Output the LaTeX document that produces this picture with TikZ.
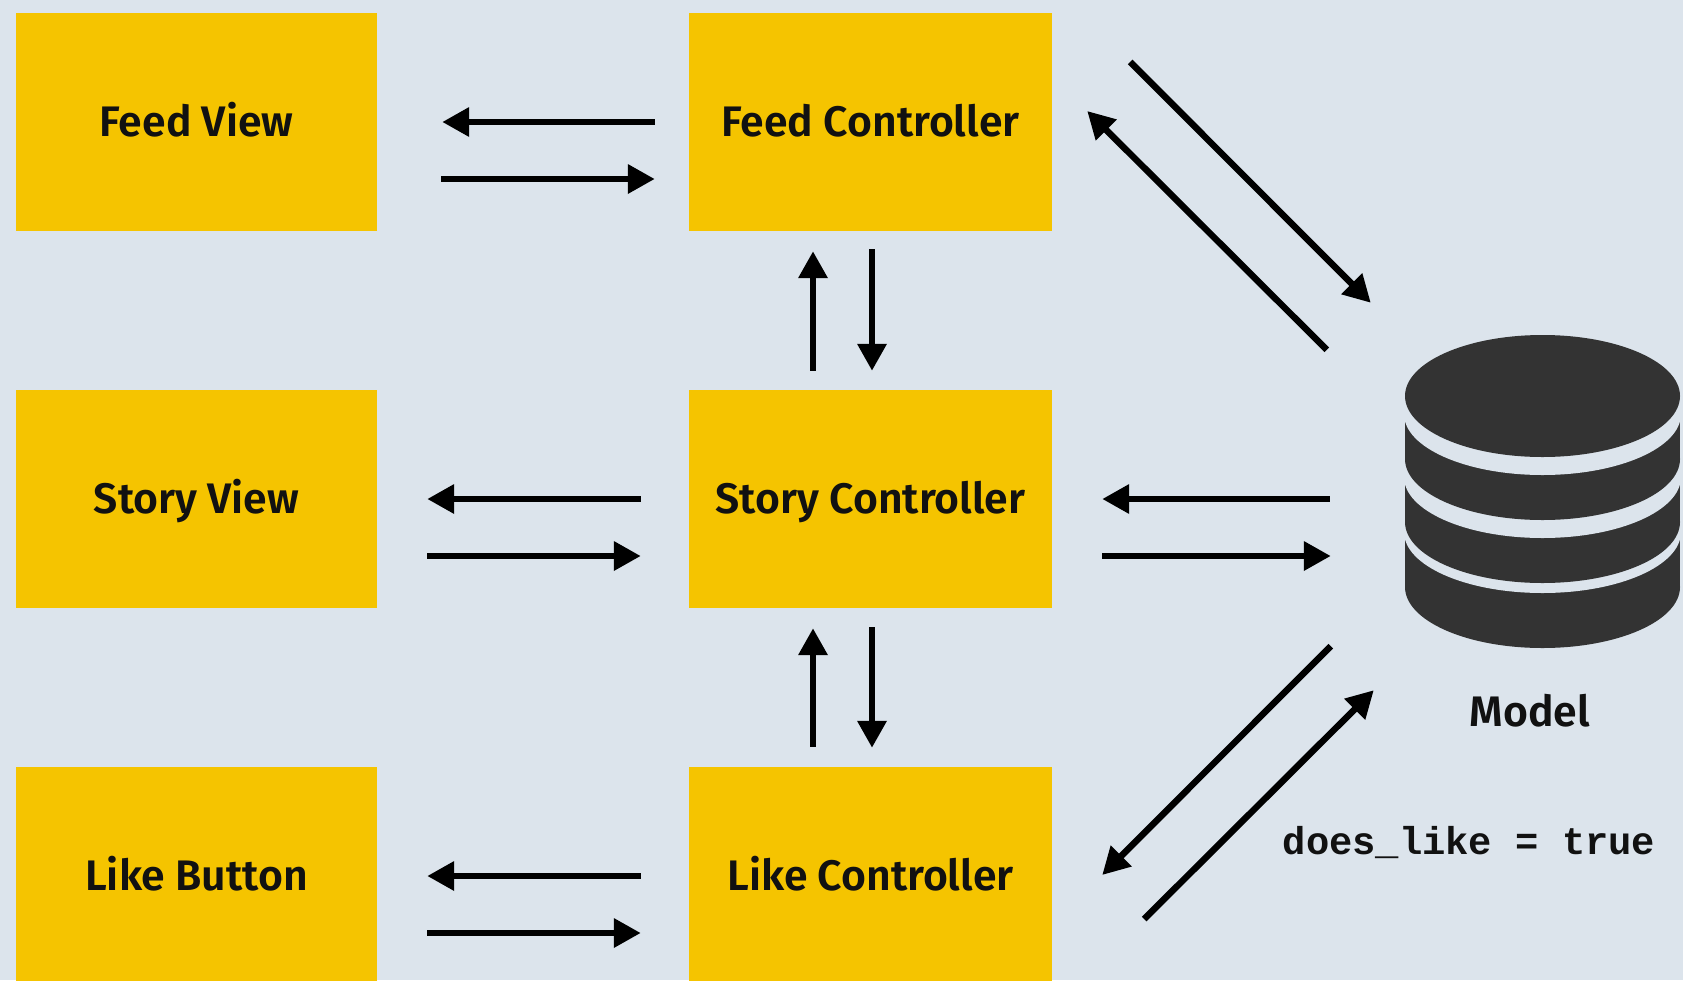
\documentclass[tikz,border=0pt]{standalone}
\usepackage{fontspec}
\setmainfont{Fira Sans}[BoldFont={Fira Sans SemiBold}]
\setmonofont{Liberation Mono}
\usetikzlibrary{arrows.meta}
\definecolor{bgcol}{HTML}{DCE4EC}
\definecolor{boxcol}{HTML}{F5C400}
\definecolor{dbcol}{HTML}{333333}
\definecolor{txtcol}{HTML}{111111}

\begin{document}
\begin{tikzpicture}[x=1pt,y=-1pt,
  box/.style={fill=boxcol,minimum width=361pt,minimum height=218pt,inner sep=0pt,text=txtcol,text height=36pt,text depth=8pt,font=\fontsize{42.7}{48}\selectfont\bfseries},
  flow/.style={draw=black,line width=6.5pt,-{Triangle[length=27pt,width=28pt]}},
  lbl/.style={inner sep=0pt,text=txtcol}]
\useasboundingbox (0,0) rectangle (1683,980);
\clip (0,0) rectangle (1683,980);
\fill [bgcol] (0,0) rectangle (1683,980);

\node [box] (feedview) at (196.5,122) {Feed View};
\node [box] (storyview) at (196.5,499) {Story View};
\node [box] (likebtn) at (196.5,876) {Like Button};
\node [box,minimum width=363pt] (feedctl) at (870.5,122) {Feed Controller};
\node [box,minimum width=363pt] (storyctl) at (870.5,499) {Story Controller};
\node [box,minimum width=363pt] (likectl) at (870.5,876) {Like Controller};
\node [minimum width=275pt,minimum height=312pt,inner sep=0pt] (model) at (1542.5,492) {};

% database, painted from the bottom layer up
\foreach \c/\g in {587/532,522/477,459/414}{
  \fill [dbcol] (model.west |- 0,\c-50) rectangle (model.east |- 0,\c);
  \fill [dbcol] (1542.5,\c) ellipse [x radius=137.5,y radius=61];
  \fill [bgcol] (1542.5,\g) ellipse [x radius=138.5,y radius=61];
}
\fill [dbcol] (1542.5,396) ellipse [x radius=137.5,y radius=61];

\node [lbl,font=\fontsize{42.7}{48}\selectfont\bfseries] (modellbl) at (1530,711) {Model};
\node [lbl,font=\fontsize{38.8}{44}\selectfont\ttfamily\bfseries] (doeslike) at (1469,843) {does\_like = true};

% view <-> controller
\draw [flow,shorten <=34pt,shorten >=65pt] (feedctl.west) -- (feedview.east);
\draw [flow,shorten <=64pt,shorten >=34pt] ([shift={(0,57)}]feedview.east) -- ([shift={(0,57)}]feedctl.west);
\draw [flow,shorten <=48pt,shorten >=50pt] (storyctl.west) -- (storyview.east);
\draw [flow,shorten <=50pt,shorten >=48pt] ([shift={(0,57)}]storyview.east) -- ([shift={(0,57)}]storyctl.west);
\draw [flow,shorten <=48pt,shorten >=50pt] (likectl.west) -- (likebtn.east);
\draw [flow,shorten <=50pt,shorten >=48pt] ([shift={(0,57)}]likebtn.east) -- ([shift={(0,57)}]likectl.west);

% controller <-> controller
\draw [flow,shorten <=19pt,shorten >=20pt] ([shift={(-57.5,0)}]storyctl.north) -- ([shift={(-57.5,0)}]feedctl.south);
\draw [flow,shorten <=18pt,shorten >=19pt] ([shift={(1.5,0)}]feedctl.south) -- ([shift={(1.5,0)}]storyctl.north);
\draw [flow,shorten <=20pt,shorten >=20pt] ([shift={(-57.5,0)}]likectl.north) -- ([shift={(-57.5,0)}]storyctl.south);
\draw [flow,shorten <=19pt,shorten >=19pt] ([shift={(1.5,0)}]storyctl.south) -- ([shift={(1.5,0)}]likectl.north);

% controller <-> model
\draw [flow] ([shift={(78,-60)}]feedctl.east) -- ([shift={(-34,-33)}]model.north west);
\draw [flow] ([shift={(-78,14)}]model.north west) -- ([shift={(35,-11)}]feedctl.east);
\draw [flow,shorten <=75pt,shorten >=50pt] (model.west |- storyctl.east) -- (storyctl.east);
\draw [flow,shorten <=50pt,shorten >=74pt] ([shift={(0,57)}]storyctl.east) -- ([shift={(0,57)}]model.west |- storyctl.east);
\draw [flow] ([shift={(-74,-2)}]model.south west) -- ([shift={(50,-1)}]likectl.east);
\draw [flow] ([shift={(92,43)}]likectl.east) -- ([shift={(-31,42)}]model.south west);
\end{tikzpicture}
\end{document}
